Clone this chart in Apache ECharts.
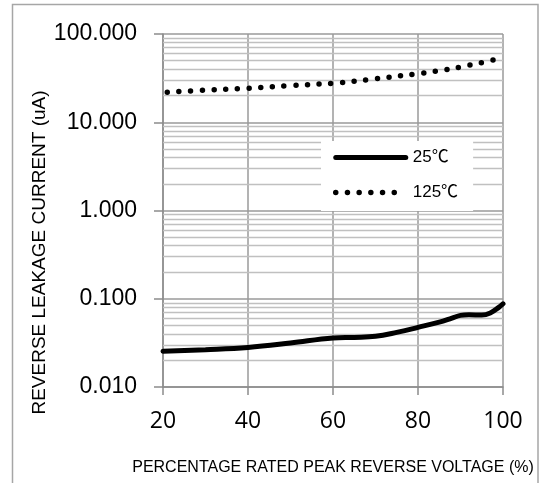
<!DOCTYPE html>
<html>
<head>
<meta charset="utf-8">
<script src="https://cdn.jsdelivr.net/npm/echarts@6/dist/echarts.min.js"></script>
<style>html,body{margin:0;padding:0;background:#fff;}#c{width:547px;height:483px;}</style>
</head>
<body>
<div id="c"></div>
<script>
// Data
var x25 = [20, 30, 40, 50, 60, 65, 70, 75, 80, 85, 88, 90, 92, 95, 97, 99, 100];
var y25 = [0.0254, 0.0265, 0.0281, 0.0315, 0.0359, 0.0365, 0.0375, 0.0416, 0.0474, 0.0544, 0.0604, 0.0648, 0.0659, 0.0653, 0.0689, 0.0798, 0.0877];
var x125 = [21, 30, 40, 50, 60, 70, 80, 85, 90, 95, 98.5];
var y125 = [21.9, 23.1, 24.3, 26.1, 27.7, 31.1, 35.5, 38.4, 42.3, 47.4, 51.7];
var xTicks = [20, 40, 60, 80, 100];
var yMajor = [0.01, 0.1, 1, 10, 100];
var yMinor = [0.02,0.03,0.04,0.05,0.06,0.07,0.08,0.09,
              0.2,0.3,0.4,0.5,0.6,0.7,0.8,0.9,
              2,3,4,5,6,7,8,9,
              20,30,40,50,60,70,80,90];
var seriesNames = ['25\u2103', '125\u2103'];
var xName = 'PERCENTAGE RATED PEAK REVERSE VOLTAGE (%)';
var yName = 'REVERSE LEAKAGE CURRENT (uA)';

function pairs(xs, ys) { return xs.map(function (v, i) { return [v, ys[i]]; }); }

var dotDash = [0, 11.7];
var chart = echarts.init(document.getElementById('c'), null, {renderer: 'canvas'});
var sans = 'Liberation Sans, Arial, Noto Sans CJK JP, sans-serif';
chart.setOption({
  animation: false,
  backgroundColor: '#fff',
  graphic: [{
    type: 'rect', silent: true, z: -10,
    shape: {x: 12.5, y: 4.5, width: 525.5, height: 520},
    style: {fill: 'none', stroke: '#a6a6a6', lineWidth: 1.5}
  }],
  grid: {left: 163, right: 44, top: 34, bottom: 96, containLabel: false},
  legend: {
    data: [
      {name: seriesNames[0], itemStyle: {opacity: 0},
       lineStyle: {width: 5, cap: 'round', type: 'solid', color: '#000'}},
      {name: seriesNames[1], itemStyle: {opacity: 0},
       lineStyle: {width: 5.5, cap: 'round', type: dotDash, color: '#000'}}
    ],
    orient: 'vertical',
    left: 321, top: 141,
    padding: [8, 15, 10, 12],
    itemGap: 18,
    itemWidth: 70, itemHeight: 14,
    backgroundColor: '#fff',
    textStyle: {fontFamily: sans, fontSize: 17, color: '#000', padding: [0, 0, 0, 2]},
    z: 5
  },
  xAxis: {
    type: 'value', min: xTicks[0], max: xTicks[xTicks.length - 1], interval: 20,
    name: xName, nameLocation: 'middle', nameGap: 73, nameMoveOverlap: false,
    nameTextStyle: {fontFamily: sans, fontSize: 16, color: '#000'},
    axisLine: {show: true, onZero: false, lineStyle: {color: '#8c8c8c', width: 1.5}},
    axisTick: {show: true, length: 8, lineStyle: {color: '#8c8c8c', width: 1.5}},
    axisLabel: {fontFamily: 'Open Sans, Lato, sans-serif', fontSize: 23, color: '#000', margin: 23},
    splitLine: {show: true, lineStyle: {color: '#9a9a9a', width: 1.5}}
  },
  yAxis: {
    type: 'log', logBase: 10, min: yMajor[0], max: yMajor[yMajor.length - 1],
    name: yName, nameLocation: 'middle', nameGap: 114, nameRotate: 90, nameMoveOverlap: false,
    nameTextStyle: {fontFamily: sans, fontSize: 19, color: '#000', padding: [0, 84, 0, 0]},
    axisLine: {show: true, lineStyle: {color: '#8c8c8c', width: 1.5}},
    axisTick: {show: true, length: 9, lineStyle: {color: '#8c8c8c', width: 1.5}},
    axisLabel: {fontFamily: sans, fontSize: 23, color: '#000', margin: 26,
      formatter: function (v) { return Number(v).toFixed(3); }},
    splitLine: {show: true, lineStyle: {color: '#9a9a9a', width: 1.5}}
  },
  series: [
    {
      name: 'grid-minor', type: 'line', data: [], z: 1, silent: true,
      markLine: {
        silent: true, symbol: 'none', label: {show: false}, z: 1,
        lineStyle: {color: '#c0c0c0', width: 1.3, type: 'solid'},
        emphasis: {disabled: true},
        data: yMinor.map(function (v) { return {yAxis: v}; })
      }
    },
    {
      name: seriesNames[0], type: 'line', data: pairs(x25, y25), z: 3,
      smooth: 0.4, symbol: 'none', showSymbol: false,
      lineStyle: {color: '#000', width: 5, cap: 'round'},
      itemStyle: {color: '#000'}
    },
    {
      name: seriesNames[1], type: 'line', data: pairs(x125, y125), z: 3,
      smooth: 0.4, symbol: 'none', showSymbol: false,
      lineStyle: {color: '#000', width: 5.5, type: dotDash, cap: 'round'},
      itemStyle: {color: '#000'}
    }
  ]
});
</script>
</body>
</html>
